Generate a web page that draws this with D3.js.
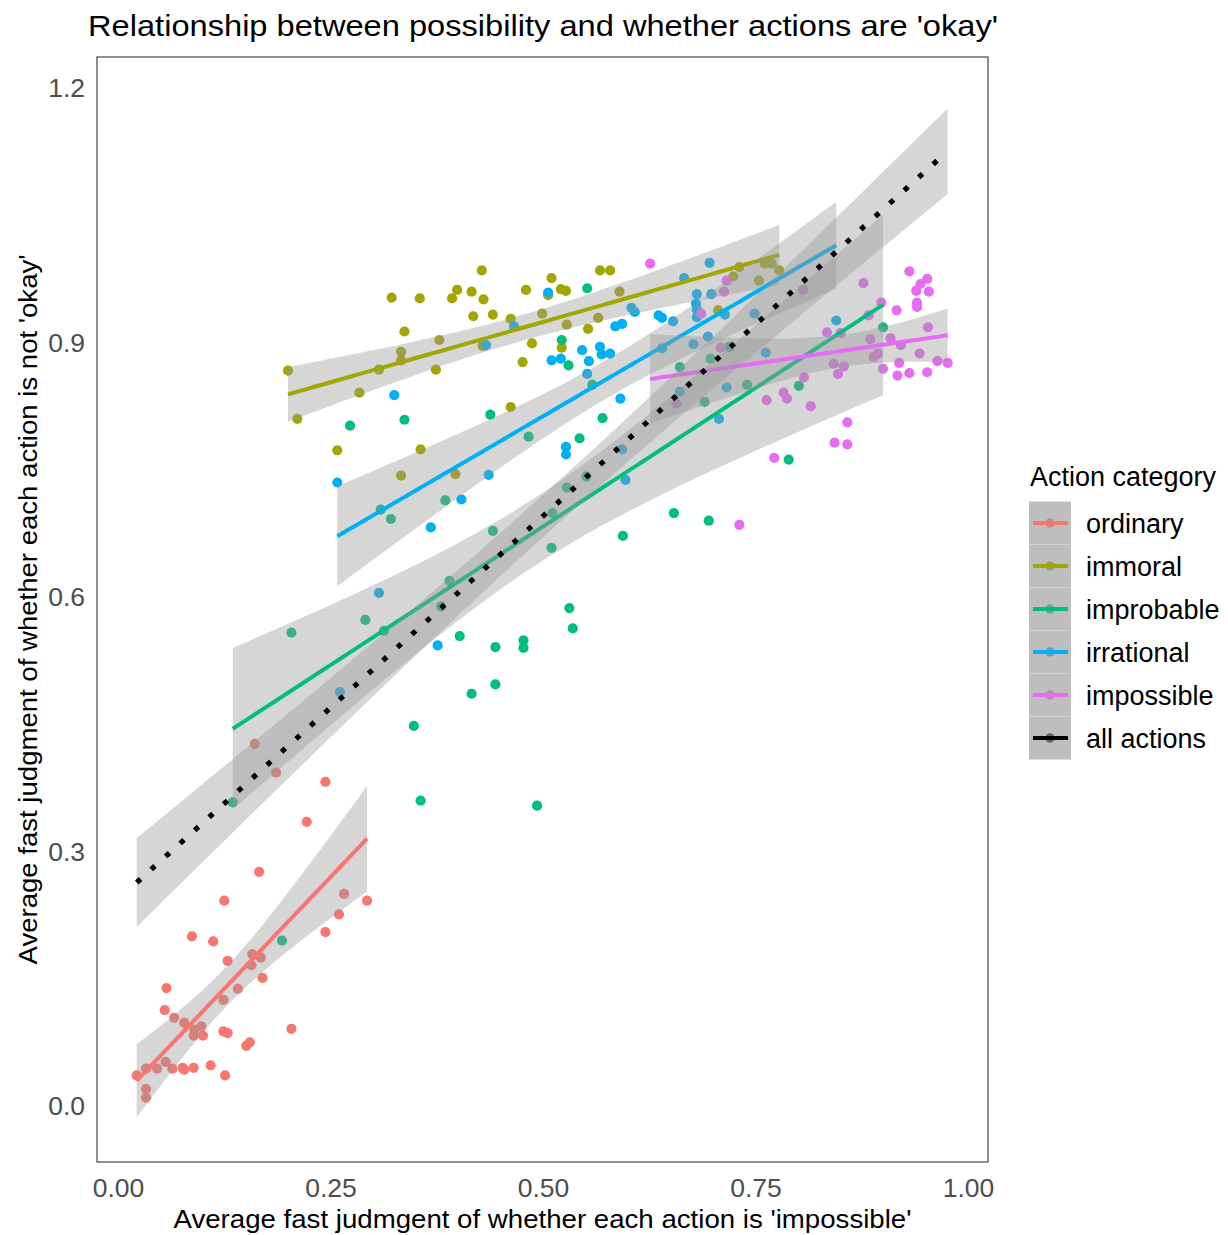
<!DOCTYPE html>
<html>
<head>
<meta charset="utf-8">
<script src="https://cdn.jsdelivr.net/npm/d3@7"></script>
<style>
  html, body { margin: 0; padding: 0; background: #ffffff; }
  svg text { font-family: "Liberation Sans", Arial, sans-serif; }
</style>
</head>
<body>
<svg id="chart" width="1228" height="1235"></svg>
<script>
// ---------------- data ----------------
const categories = ["ordinary", "immoral", "improbable", "irrational", "impossible"];
const legendLabels = ["ordinary", "immoral", "improbable", "irrational", "impossible", "all actions"];
const categoryColors = ["#F8766D", "#A3A500", "#00BF7D", "#00B0F6", "#E76BF3"];
const allColor = "#000000";

const xTicks = [0, 0.25, 0.5, 0.75, 1.0];
const xTickLabels = ["0.00", "0.25", "0.50", "0.75", "1.00"];
const yTicks = [0, 0.3, 0.6, 0.9, 1.2];
const yTickLabels = ["0.0", "0.3", "0.6", "0.9", "1.2"];

const titleText = "Relationship between possibility and whether actions are 'okay'";
const xTitle = "Average fast judmgent of whether each action is 'impossible'";
const yTitle = "Average fast judgment of whether each action is not 'okay'";
const legendTitle = "Action category";

// [impossible judgment, not-okay judgment]
const ordinary = [
  [0.166,0.276],[0.125,0.242],[0.293,0.242],[0.266,0.250],[0.260,0.226],[0.244,0.205],
  [0.087,0.200],[0.112,0.194],[0.129,0.171],[0.158,0.179],[0.168,0.175],[0.157,0.166],
  [0.170,0.151],[0.057,0.139],[0.141,0.138],[0.124,0.125],[0.055,0.113],[0.066,0.104],
  [0.078,0.098],[0.090,0.090],[0.098,0.094],[0.089,0.083],[0.100,0.083],[0.124,0.088],
  [0.129,0.086],[0.204,0.091],[0.155,0.075],[0.151,0.071],[0.022,0.036],[0.033,0.044],
  [0.046,0.044],[0.056,0.052],[0.064,0.044],[0.076,0.045],[0.078,0.043],[0.089,0.045],
  [0.109,0.048],[0.126,0.036],[0.033,0.020],[0.033,0.010],[0.161,0.427],[0.186,0.393],
  [0.244,0.382],[0.222,0.335]
];
const immoral = [
  [0.428,0.985],[0.322,0.953],[0.355,0.952],[0.393,0.952],[0.399,0.962],[0.416,0.960],
  [0.430,0.951],[0.418,0.931],[0.441,0.933],[0.462,0.928],[0.337,0.913],[0.378,0.903],
  [0.333,0.889],[0.333,0.879],[0.307,0.868],[0.374,0.868],[0.429,0.896],[0.200,0.867],
  [0.284,0.841],[0.211,0.810],[0.258,0.773],[0.356,0.774],[0.333,0.743],[0.397,0.745],
  [0.462,0.824],[0.480,0.962],[0.510,0.976],[0.567,0.985],[0.579,0.985],[0.521,0.963],
  [0.527,0.961],[0.506,0.956],[0.590,0.960],[0.499,0.934],[0.565,0.929],[0.528,0.921],
  [0.553,0.916],[0.487,0.899],[0.522,0.894],[0.476,0.877],[0.731,0.989],[0.761,0.993],
  [0.769,0.993],[0.778,0.985],[0.754,0.973],[0.724,0.978],[0.706,0.938]
];
const improbable = [
  [0.273,0.802],[0.337,0.809],[0.438,0.815],[0.309,0.703],[0.321,0.692],[0.385,0.714],
  [0.441,0.678],[0.552,0.964],[0.522,0.903],[0.530,0.873],[0.558,0.850],[0.483,0.789],
  [0.570,0.811],[0.543,0.787],[0.661,0.871],[0.697,0.881],[0.719,0.895],[0.690,0.830],
  [0.740,0.850],[0.801,0.849],[0.789,0.762],[0.528,0.729],[0.551,0.742],[0.511,0.699],
  [0.510,0.658],[0.654,0.699],[0.695,0.690],[0.594,0.672],[0.900,0.918],[0.390,0.619],
  [0.291,0.573],[0.204,0.558],[0.313,0.560],[0.380,0.589],[0.402,0.554],[0.444,0.541],
  [0.477,0.549],[0.477,0.540],[0.531,0.587],[0.535,0.563],[0.444,0.497],[0.416,0.486],
  [0.348,0.448],[0.356,0.360],[0.493,0.354],[0.135,0.358],[0.193,0.195]
];
const irrational = [
  [0.433,0.897],[0.325,0.838],[0.258,0.735],[0.436,0.744],[0.404,0.715],[0.368,0.682],
  [0.696,0.994],[0.666,0.976],[0.506,0.959],[0.681,0.957],[0.698,0.957],[0.604,0.941],
  [0.608,0.936],[0.636,0.932],[0.640,0.929],[0.653,0.925],[0.680,0.946],[0.681,0.939],
  [0.681,0.930],[0.585,0.919],[0.593,0.922],[0.546,0.891],[0.567,0.895],[0.569,0.886],
  [0.579,0.887],[0.510,0.879],[0.521,0.881],[0.554,0.878],[0.552,0.863],[0.466,0.919],
  [0.591,0.834],[0.527,0.777],[0.527,0.768],[0.714,0.933],[0.749,0.934],[0.640,0.893],
  [0.677,0.898],[0.694,0.907],[0.762,0.888],[0.661,0.842],[0.716,0.847],[0.707,0.810],
  [0.593,0.774],[0.597,0.738],[0.845,0.926],[0.307,0.605],[0.376,0.543],[0.261,0.488]
];
const impossible = [
  [0.626,0.993],[0.716,0.973],[0.713,0.960],[0.686,0.934],[0.806,0.962],[0.709,0.894],
  [0.657,0.828],[0.763,0.832],[0.783,0.841],[0.787,0.834],[0.807,0.859],[0.815,0.825],
  [0.772,0.764],[0.731,0.685],[0.931,0.984],[0.944,0.969],[0.952,0.975],[0.939,0.961],
  [0.954,0.960],[0.940,0.947],[0.940,0.942],[0.877,0.970],[0.898,0.947],[0.916,0.938],
  [0.883,0.932],[0.953,0.918],[0.909,0.905],[0.885,0.904],[0.921,0.897],[0.943,0.887],
  [0.894,0.887],[0.889,0.883],[0.919,0.876],[0.964,0.878],[0.976,0.876],[0.900,0.869],
  [0.917,0.861],[0.931,0.864],[0.952,0.865],[0.842,0.875],[0.854,0.872],[0.847,0.863],
  [0.834,0.912],[0.850,0.911],[0.858,0.806],[0.843,0.782],[0.858,0.780]
];
const groups = [ordinary, immoral, improbable, irrational, impossible];

// ---------------- layout ----------------
const svg = d3.select("#chart");
const panel = { left: 97, right: 988, top: 57, bottom: 1162 };

const x = d3.scaleLinear().domain([-0.0247, 1.0235]).range([panel.left, panel.right]);
const y = d3.scaleLinear().domain([-0.066, 1.2366]).range([panel.bottom, panel.top]);

// ---------------- linear model (geom_smooth, method = "lm") ----------------
function qt975(df) {
  const z = 1.959964;
  return z + (z ** 3 + z) / (4 * df) + (5 * z ** 5 + 16 * z ** 3 + 3 * z) / (96 * df * df);
}
function lmFit(pts) {
  const n = pts.length;
  const mx = d3.mean(pts, d => d[0]);
  const my = d3.mean(pts, d => d[1]);
  let sxx = 0, sxy = 0;
  pts.forEach(d => { sxx += (d[0] - mx) ** 2; sxy += (d[0] - mx) * (d[1] - my); });
  const b = sxy / sxx, a = my - b * mx;
  let rss = 0;
  pts.forEach(d => { rss += (d[1] - a - b * d[0]) ** 2; });
  const s = Math.sqrt(rss / (n - 2));
  const t = qt975(n - 2);
  const [x0, x1] = d3.extent(pts, d => d[0]);
  const grid = d3.range(80).map(i => x0 + (x1 - x0) * i / 79);
  return grid.map(xv => {
    const fit = a + b * xv;
    const se = s * Math.sqrt(1 / n + (xv - mx) ** 2 / sxx);
    return { x: xv, y: fit, lo: fit - t * se, hi: fit + t * se };
  });
}

const clipId = "panelClip";
svg.append("defs").append("clipPath").attr("id", clipId)
  .append("rect").attr("x", panel.left).attr("y", panel.top)
  .attr("width", panel.right - panel.left).attr("height", panel.bottom - panel.top);

const plot = svg.append("g").attr("clip-path", `url(#${clipId})`);

// points
groups.forEach((pts, gi) => {
  plot.append("g").selectAll("circle").data(pts).join("circle")
    .attr("cx", d => x(d[0])).attr("cy", d => y(d[1])).attr("r", 5.1)
    .attr("fill", categoryColors[gi]);
});

const area = d3.area().x(d => x(d.x)).y0(d => y(d.lo)).y1(d => y(d.hi));
const line = d3.line().x(d => x(d.x)).y(d => y(d.y));

// per-category smooths
groups.forEach((pts, gi) => {
  const fit = lmFit(pts);
  plot.append("path").datum(fit).attr("d", area)
    .attr("fill", "#999999").attr("fill-opacity", 0.4);
  plot.append("path").datum(fit).attr("d", line)
    .attr("fill", "none").attr("stroke", categoryColors[gi]).attr("stroke-width", 4);
});

// all actions smooth
const allPts = groups.flat();
const allFit = lmFit(allPts);
plot.append("path").datum(allFit).attr("d", area)
  .attr("fill", "#999999").attr("fill-opacity", 0.4);
plot.append("path").datum(allFit).attr("d", line)
  .attr("fill", "none").attr("stroke", allColor).attr("stroke-width", 5.2)
  .attr("stroke-dasharray", "5.2 14.3");

// panel border
svg.append("rect").attr("x", panel.left).attr("y", panel.top)
  .attr("width", panel.right - panel.left).attr("height", panel.bottom - panel.top)
  .attr("fill", "none").attr("stroke", "#333333").attr("stroke-width", 1.1);

// axes (labels only, no tick marks)
const xAxis = d3.axisBottom(x).tickValues(xTicks).tickFormat((d, i) => xTickLabels[i]).tickSize(0).tickPadding(16);
const gx = svg.append("g").attr("transform", `translate(0,${panel.bottom})`).call(xAxis);
gx.select(".domain").remove();
gx.selectAll("text").attr("font-size", 26.5).attr("fill", "#4d4d4d")
  .style("font-family", "'Liberation Sans', Arial, sans-serif");

const yAxis = d3.axisLeft(y).tickValues(yTicks).tickFormat((d, i) => yTickLabels[i]).tickSize(0).tickPadding(12);
const gy = svg.append("g").attr("transform", `translate(${panel.left},0)`).call(yAxis);
gy.select(".domain").remove();
gy.selectAll("text").attr("font-size", 26.5).attr("fill", "#4d4d4d")
  .style("font-family", "'Liberation Sans', Arial, sans-serif");

// titles
svg.append("text").attr("x", 88).attr("y", 36).attr("font-size", 29)
  .attr("textLength", 910).attr("lengthAdjust", "spacingAndGlyphs")
  .attr("fill", "#000").text(titleText);

svg.append("text").attr("x", (panel.left + panel.right) / 2).attr("y", 1228)
  .attr("text-anchor", "middle").attr("font-size", 26.5)
  .attr("textLength", 738).attr("lengthAdjust", "spacingAndGlyphs")
  .attr("fill", "#000").text(xTitle);

svg.append("text")
  .attr("transform", `translate(37,${(panel.top + panel.bottom) / 2}) rotate(-90)`)
  .attr("text-anchor", "middle").attr("font-size", 26.5)
  .attr("textLength", 710).attr("lengthAdjust", "spacingAndGlyphs")
  .attr("fill", "#000").text(yTitle);

// legend
const legend = svg.append("g");
legend.append("text").attr("x", 1030).attr("y", 486).attr("font-size", 27)
  .attr("fill", "#000").text(legendTitle);
const keyX = 1029, keyW = 42, keyH = 43, keyTop = 501.5;
legendLabels.forEach((lab, i) => {
  const cy = keyTop + keyH * i + keyH / 2;
  const col = i < categoryColors.length ? categoryColors[i] : allColor;
  legend.append("rect").attr("x", keyX).attr("y", keyTop + keyH * i)
    .attr("width", keyW).attr("height", keyH).attr("fill", "#ffffff");
  legend.append("circle").attr("cx", keyX + keyW / 2).attr("cy", cy).attr("r", 4.7).attr("fill", col);
  legend.append("rect").attr("x", keyX).attr("y", keyTop + keyH * i)
    .attr("width", keyW).attr("height", keyH).attr("fill", "#999999").attr("fill-opacity", 0.64);
  legend.append("line").attr("x1", keyX + 4).attr("x2", keyX + keyW - 3)
    .attr("y1", cy).attr("y2", cy).attr("stroke", col).attr("stroke-width", 4);
  legend.append("text").attr("x", 1086).attr("y", cy + 9.5).attr("font-size", 27)
    .attr("fill", "#000").text(lab);
});
</script>
</body>
</html>
